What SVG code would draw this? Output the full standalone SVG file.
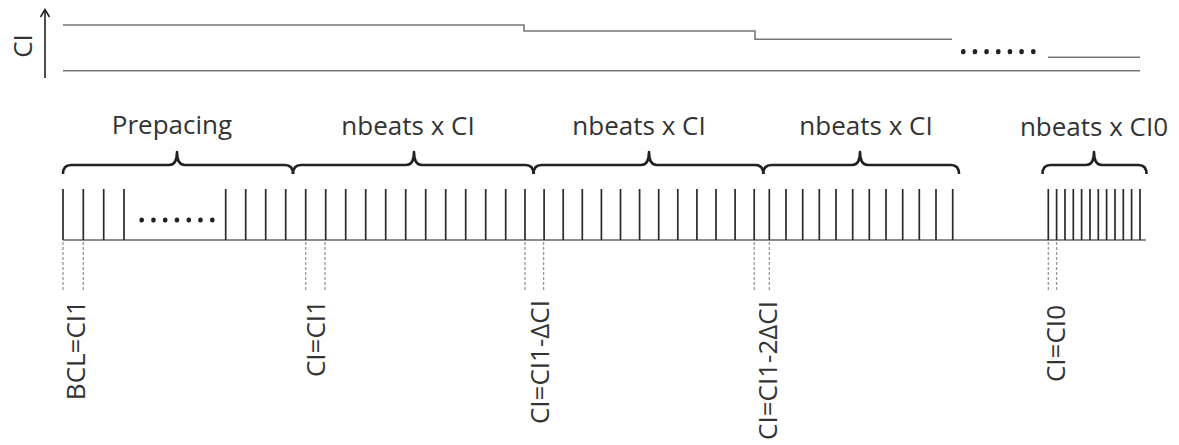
<svg xmlns="http://www.w3.org/2000/svg" width="1179" height="445" viewBox="0 0 1179 445">
<style>
.t{font-family:"Open Sans","Liberation Sans",sans-serif;font-size:26px;fill:#333}
.g{fill:none;stroke:#777;stroke-width:1.6}
.br{fill:none;stroke:#222;stroke-width:2.6;stroke-linejoin:round}
.bt{stroke:#2a2a2a;stroke-width:1.7}
.ds{stroke:#999;stroke-width:1.3;stroke-dasharray:3 2}
.dot{fill:#222}
</style>
<defs>
<line id="b" class="bt" x1="0" y1="189" x2="0" y2="240"/>
<line id="d" class="ds" x1="0" y1="242" x2="0" y2="290"/>
<ellipse id="p" class="dot" rx="2.3" ry="2.6"/>
</defs>
<rect width="1179" height="445" fill="#fff"/>

<g id="ci-axis">
<line x1="45" y1="78" x2="45" y2="10" stroke="#222" stroke-width="1.6"/>
<polyline points="40.5,17 45,9.5 49.5,17" fill="none" stroke="#222" stroke-width="1.6"/>
<text class="t" text-anchor="middle" transform="translate(32,46) rotate(-90)">CI</text>
</g>

<g id="ci-graph">
<polyline class="g" points="63,25 524,25 524,31 755,31 755,39.3 952,39.3"/>
<line class="g" x1="1048" y1="57.3" x2="1140" y2="57.3"/>
<line class="g" x1="63" y1="70.7" x2="1140" y2="70.7"/>
<g id="top-dots">
<use href="#p" x="963.3" y="51.7"/><use href="#p" x="975" y="51.7"/><use href="#p" x="986.6" y="51.7"/><use href="#p" x="998.3" y="51.7"/><use href="#p" x="1010" y="51.7"/><use href="#p" x="1021.6" y="51.7"/><use href="#p" x="1033.3" y="51.7"/>
</g>
</g>

<g id="labels">
<text class="t" text-anchor="middle" x="172" y="134">Prepacing</text>
<text class="t" text-anchor="middle" x="408" y="135">nbeats x CI</text>
<text class="t" text-anchor="middle" x="639" y="135">nbeats x CI</text>
<text class="t" text-anchor="middle" x="866" y="135">nbeats x CI</text>
<text class="t" text-anchor="middle" x="1094" y="136">nbeats x CI0</text>
</g>

<g id="braces">
<path class="br" d="M63,174 Q63,165 71,165 L169,165 Q177,165 177,152 Q177,165 185,165 L285,165 Q293,165 293,174"/>
<path class="br" d="M293,174 Q293,165 301,165 L406,165 Q414,165 414,152 Q414,165 422,165 L525.5,165 Q533.5,165 533.5,174"/>
<path class="br" d="M533.5,174 Q533.5,165 541.5,165 L641,165 Q649,165 649,152 Q649,165 657,165 L755.3,165 Q763.3,165 763.3,174"/>
<path class="br" d="M763.3,174 Q763.3,165 771.3,165 L852,165 Q860,165 860,152 Q860,165 868,165 L951,165 Q959,165 959,174"/>
<path class="br" d="M1042.5,174 Q1042.5,165 1050.5,165 L1086,165 Q1094,165 1094,152 Q1094,165 1102,165 L1138.5,165 Q1146.5,165 1146.5,174"/>
</g>

<g id="beats">
<line x1="63" y1="240" x2="1146" y2="240" stroke="#666" stroke-width="1.5"/>
<g id="prepacing-beats">
<use href="#b" x="63"/><use href="#b" x="83.3"/><use href="#b" x="103.7"/><use href="#b" x="124"/>
<use href="#p" x="141.7" y="220"/><use href="#p" x="153.5" y="220"/><use href="#p" x="165.2" y="220"/><use href="#p" x="177" y="220"/><use href="#p" x="188.8" y="220"/><use href="#p" x="200.5" y="220"/><use href="#p" x="212.3" y="220"/>
<use href="#b" x="225.7"/><use href="#b" x="245.7"/><use href="#b" x="265.7"/><use href="#b" x="285.7"/>
</g>
<g id="block1">
<use href="#b" x="305.7"/><use href="#b" x="325.7"/><use href="#b" x="345.7"/><use href="#b" x="365.7"/><use href="#b" x="385.7"/><use href="#b" x="405.7"/><use href="#b" x="425.7"/><use href="#b" x="445.7"/><use href="#b" x="465.7"/><use href="#b" x="485.7"/><use href="#b" x="505.7"/>
</g>
<g id="block2">
<use href="#b" x="525"/><use href="#b" x="544.1"/><use href="#b" x="563.2"/><use href="#b" x="582.3"/><use href="#b" x="601.4"/><use href="#b" x="620.5"/><use href="#b" x="639.6"/><use href="#b" x="658.7"/><use href="#b" x="677.8"/><use href="#b" x="696.9"/><use href="#b" x="716"/><use href="#b" x="735.1"/><use href="#b" x="754.2"/>
</g>
<g id="block3">
<use href="#b" x="769.3"/><use href="#b" x="786"/><use href="#b" x="802.7"/><use href="#b" x="819.3"/><use href="#b" x="836"/><use href="#b" x="852.7"/><use href="#b" x="869.3"/><use href="#b" x="886"/><use href="#b" x="902.7"/><use href="#b" x="919.3"/><use href="#b" x="936"/><use href="#b" x="952.7"/>
</g>
<g id="block4">
<use href="#b" x="1048.3"/><use href="#b" x="1056.6"/><use href="#b" x="1065"/><use href="#b" x="1073.3"/><use href="#b" x="1081.6"/><use href="#b" x="1090"/><use href="#b" x="1098.3"/><use href="#b" x="1106.6"/><use href="#b" x="1115"/><use href="#b" x="1123.3"/><use href="#b" x="1131.6"/><use href="#b" x="1140"/>
</g>
</g>

<g id="connectors">
<use href="#d" x="63"/><use href="#d" x="83.3"/>
<use href="#d" x="305.7"/><use href="#d" x="325"/>
<use href="#d" x="525"/><use href="#d" x="543.6"/>
<use href="#d" x="754.2"/><use href="#d" x="769.3"/>
<use href="#d" x="1048.3"/><use href="#d" x="1056.6"/>
</g>

<g id="interval-labels">
<text class="t" text-anchor="end" transform="translate(85,300) rotate(-90)">BCL=CI1</text>
<text class="t" text-anchor="end" transform="translate(325,300) rotate(-90)">CI=CI1</text>
<text class="t" text-anchor="end" transform="translate(549,300) rotate(-90)">CI=CI1-ΔCI</text>
<text class="t" text-anchor="end" transform="translate(777,301) rotate(-90)">CI=CI1-2ΔCI</text>
<text class="t" text-anchor="end" transform="translate(1065,305) rotate(-90)">CI=CI0</text>
</g>
</svg>
